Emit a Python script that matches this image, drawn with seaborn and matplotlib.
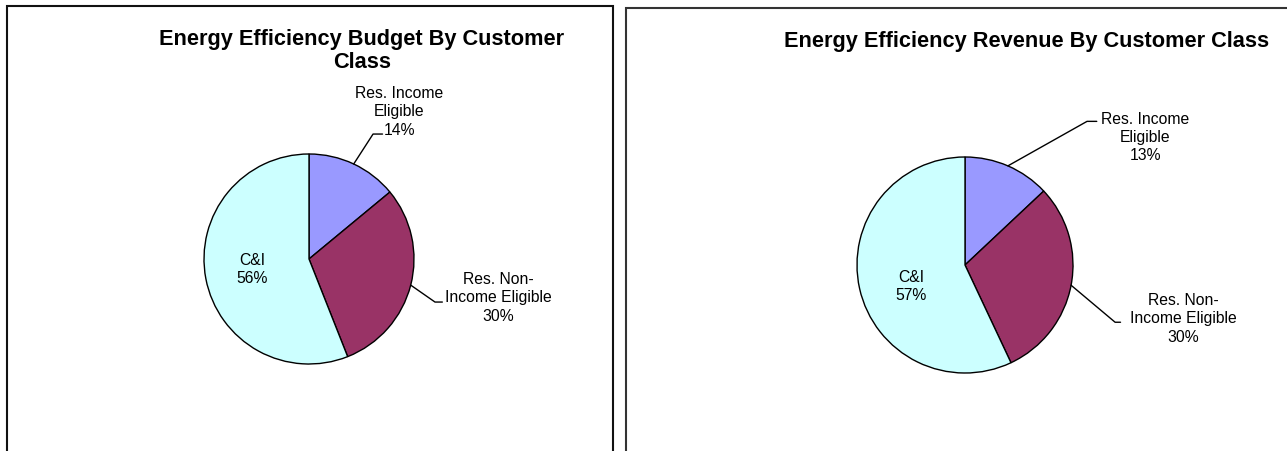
import matplotlib
matplotlib.use("Agg")
import matplotlib.pyplot as plt
import seaborn as sns
import numpy as np
from matplotlib.patches import Rectangle

sns.set_theme(style="white")
plt.rcParams['font.family'] = ['Liberation Sans', 'DejaVu Sans']

categories = ["Res. Income\nEligible", "Res. Non-\nIncome Eligible", "C&I"]
budget_values = [14, 30, 56]
revenue_values = [13, 30, 57]
colors = ["#9999FF", "#993366", "#CCFFFF"]
titles = ["Energy Efficiency Budget By Customer\nClass",
          "Energy Efficiency Revenue By Customer Class"]

W, H = 1287, 452
fig = plt.figure(figsize=(W / 100, H / 100), dpi=100)

# panel frames
fig.patches.append(Rectangle((7 / W, -0.05), (613 - 7) / W, 1.05 - 7 / H,
                             transform=fig.transFigure, fill=False,
                             edgecolor="#111111", linewidth=1.5))
fig.patches.append(Rectangle((626 / W, -0.05), 0.8, 1.05 - 9 / H,
                             transform=fig.transFigure, fill=False,
                             edgecolor="#333333", linewidth=1.5))


def px_axes(cx, cy, r):
    return fig.add_axes([(cx - r) / W, (H - cy - r) / H, 2 * r / W, 2 * r / H])


panels = [
    dict(values=budget_values, cx=309, cy=260, r=105, title=titles[0],
         tx=362, ty=51,
         text_pos=[(0.86, 1.41), (1.80, -0.36), (-0.54, -0.09)],
         elbows=[[(0.61, 1.19), (0.70, 1.19)], [(1.20, -0.41), (1.27, -0.41)], None]),
    dict(values=revenue_values, cx=965, cy=266, r=108, title=titles[1],
         tx=1027, ty=41,
         text_pos=[(1.67, 1.19), (2.02, -0.49), (-0.50, -0.19)],
         elbows=[[(1.13, 1.33), (1.22, 1.33)], [(1.39, -0.53), (1.44, -0.53)], None]),
]

for p in panels:
    ax = px_axes(p["cx"], p["cy"], p["r"])
    wedges, _ = ax.pie(p["values"], colors=colors, startangle=90, counterclock=False,
                       radius=1.0, wedgeprops=dict(edgecolor="black", linewidth=1.0))
    ax.set_xlim(-1, 1)
    ax.set_ylim(-1, 1)
    ax.set_aspect("equal")
    ax.axis("off")
    for i, (w, cat, val) in enumerate(zip(wedges, categories, p["values"])):
        tx, ty = p["text_pos"][i]
        ax.text(tx, ty, f"{cat}\n{val}%", ha="center", va="center", fontsize=11.3,
                color="black", linespacing=1.27, clip_on=False)
        el = p["elbows"][i]
        if el is not None:
            mid = np.deg2rad((w.theta1 + w.theta2) / 2)
            xs = [np.cos(mid)] + [e[0] for e in el]
            ys = [np.sin(mid)] + [e[1] for e in el]
            ax.plot(xs, ys, color="black", linewidth=1.0, clip_on=False)
    fig.text(p["tx"] / W, 1 - p["ty"] / H, p["title"], ha="center", va="center",
             fontsize=15.7, fontweight="bold", color="black", linespacing=1.17)

fig.savefig("out.png", dpi=100, facecolor="white")
